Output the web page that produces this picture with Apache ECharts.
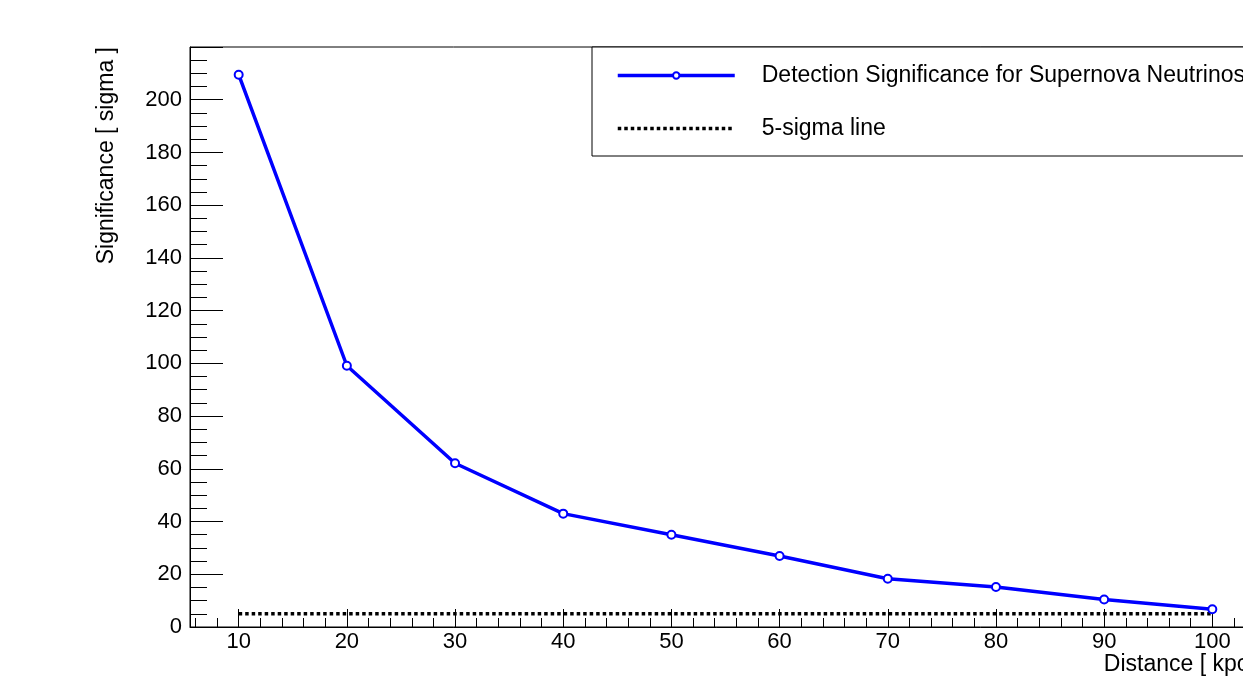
<!DOCTYPE html>
<html>
<head>
<meta charset="utf-8">
<title>Detection Significance for Supernova Neutrinos</title>
<script src="https://cdn.jsdelivr.net/npm/echarts@6/dist/echarts.min.js"></script>
<style>
  html, body { margin: 0; padding: 0; background: #ffffff; }
  #chart { width: 1243px; height: 682px; }
</style>
</head>
<body>
<div id="chart"></div>
<script>
// Supernova distance in kpc
const distances = [10, 20, 30, 40, 50, 60, 70, 80, 90, 100];
// Detection significance in sigma at each distance
const significance = [209.5, 99.1, 62.1, 43.0, 35.0, 26.9, 18.3, 15.2, 10.4, 6.7];
// 5-sigma discovery threshold
const fiveSigma = [5, 5, 5, 5, 5, 5, 5, 5, 5, 5];

// Axis tick positions
const xMajorTicks = [10, 20, 30, 40, 50, 60, 70, 80, 90, 100];
const xMinorTicks = [];
for (let v = 6; v <= 104; v += 2) {
  if (v % 10 !== 0) xMinorTicks.push(v);
}

const seriesNames = ['Detection Significance for Supernova Neutrinos', '5-sigma line'];
const xTitle = 'Distance [ kpc ]';
const yTitle = 'Significance [ sigma ]';

const FONT = "'Liberation Sans', Arial, Helvetica, sans-serif";
const X_MIN = 5.5, X_MAX = 104.5;

const chart = echarts.init(document.getElementById('chart'), null, { renderer: 'canvas' });

chart.setOption({
  animation: false,
  backgroundColor: '#ffffff',
  textStyle: { fontFamily: FONT, color: '#000' },
  grid: {
    left: 190, top: 47, right: -18, bottom: 55,
    show: true, borderColor: '#000', borderWidth: 1,
    backgroundColor: 'transparent',
    outerBoundsMode: 'none',
    containLabel: false
  },
  legend: {
    orient: 'vertical',
    left: 592, top: 47,
    data: [
      { name: seriesNames[0] },
      { name: seriesNames[1], itemStyle: { color: 'transparent', borderColor: 'transparent', opacity: 0 } }
    ],
    itemWidth: 117, itemHeight: 8, itemGap: 30,
    padding: [17, 80, 16, 24],
    borderColor: '#000', borderWidth: 1,
    backgroundColor: '#ffffff',
    selectedMode: false,
    lineStyle: { width: 3.5 },
    textStyle: { fontFamily: FONT, fontSize: 23, color: '#000', padding: [0, 0, 0, 22] }
  },
  xAxis: [
    {
      type: 'value', min: X_MIN, max: X_MAX, position: 'bottom',
      name: xTitle, nameLocation: 'end', nameGap: 0,
      nameTextStyle: { fontFamily: FONT, fontSize: 23, color: '#000', align: 'right', verticalAlign: 'top', padding: [26, 0, 0, 0] },
      axisLine: { show: true, lineStyle: { color: '#000', width: 1 } },
      axisTick: { show: true, inside: true, length: 18, customValues: xMajorTicks, lineStyle: { color: '#000', width: 1 } },
      axisLabel: { show: true, customValues: xMajorTicks, fontFamily: FONT, fontSize: 22, color: '#000', margin: 4 },
      splitLine: { show: false }
    },
    {
      type: 'value', min: X_MIN, max: X_MAX, position: 'bottom', offset: 0,
      axisLine: { show: false },
      axisTick: { show: true, inside: true, length: 9, customValues: xMinorTicks, lineStyle: { color: '#000', width: 1 } },
      axisLabel: { show: false },
      splitLine: { show: false }
    }
  ],
  yAxis: {
    type: 'value', min: 0, max: 220, interval: 20,
    name: yTitle, nameLocation: 'end', nameGap: 0, nameRotate: 90,
    nameTextStyle: { fontFamily: FONT, fontSize: 23, color: '#000', align: 'right', verticalAlign: 'bottom', padding: [0, 0, 72, 0] },
    axisLine: { show: true, lineStyle: { color: '#000', width: 1 } },
    axisTick: { show: true, inside: true, length: 33, lineStyle: { color: '#000', width: 1 } },
    minorTick: { show: true, splitNumber: 4, length: 17, lineStyle: { color: '#000', width: 1 } },
    axisLabel: { fontFamily: FONT, fontSize: 22, color: '#000', margin: 8, showMaxLabel: false },
    splitLine: { show: false },
    minorSplitLine: { show: false }
  },
  series: [
    {
      name: seriesNames[0],
      type: 'line',
      xAxisIndex: 0,
      data: distances.map((d, i) => [d, significance[i]]),
      symbol: 'emptyCircle', symbolSize: 8,
      itemStyle: { color: '#0000ff', borderWidth: 1 },
      lineStyle: { color: '#0000ff', width: 3.5 },
      z: 3
    },
    {
      name: seriesNames[1],
      type: 'line',
      xAxisIndex: 0,
      data: distances.map((d, i) => [d, fiveSigma[i]]),
      symbol: 'none',
      itemStyle: { color: '#000' },
      lineStyle: { color: '#000', width: 3.5, type: [3.5, 3] },
      z: 2
    }
  ]
});
</script>
</body>
</html>
